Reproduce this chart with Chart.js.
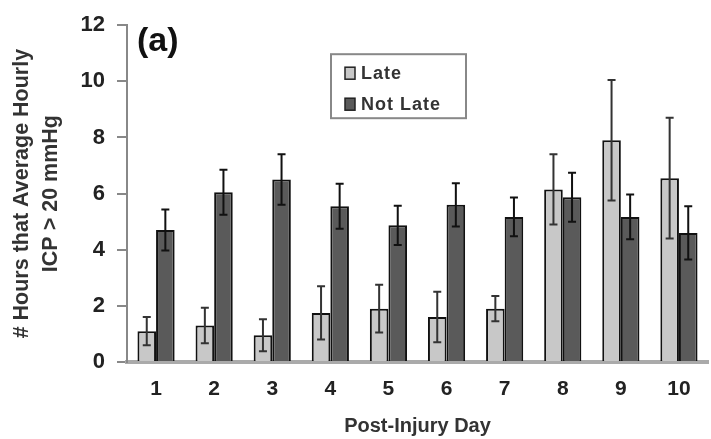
<!DOCTYPE html>
<html>
<head>
<meta charset="utf-8">
<script src="https://cdn.jsdelivr.net/npm/chart.js@4/dist/chart.umd.min.js"></script>
<style>
  html, body { margin: 0; padding: 0; background: #fff; }
  #wrap { width: 711px; height: 439px; position: relative; }
</style>
</head>
<body>
<div id="wrap"><canvas id="c" width="711" height="439"></canvas></div>
<script>
// Post-injury days
const days = ['1', '2', '3', '4', '5', '6', '7', '8', '9', '10'];

// Mean hours per day with average hourly ICP > 20 mmHg, and standard errors
const lateMeans    = [1.10, 1.30, 0.95, 1.75, 1.90, 1.60, 1.90, 6.15, 7.90, 6.55];
const lateErr      = [0.50, 0.63, 0.57, 0.95, 0.85, 0.90, 0.45, 1.25, 2.15, 2.15];
const notLateMeans = [4.70, 6.05, 6.50, 5.55, 4.87, 5.60, 5.17, 5.87, 5.17, 4.60];
const notLateErr   = [0.73, 0.80, 0.90, 0.80, 0.70, 0.77, 0.69, 0.87, 0.80, 0.95];

const seriesNames = ['Late', 'Not Late'];
const yTicks = [0, 2, 4, 6, 8, 10, 12];

const FONT = '"Liberation Sans", Arial, sans-serif';
const fills = ['#c8c8c8', '#5a5a5a'];
const errors = [lateErr, notLateErr];

// Error bars (mean ± SE) drawn over each bar
const errorBars = {
  id: 'errorBars',
  afterDatasetsDraw(chart) {
    const ctx = chart.ctx;
    const y = chart.scales.y;
    chart.data.datasets.forEach((ds, i) => {
      const meta = chart.getDatasetMeta(i);
      ctx.save();
      ctx.strokeStyle = i === 0 ? '#333' : '#111';
      ctx.lineWidth = 2;
      meta.data.forEach((bar, j) => {
        const v = ds.data[j];
        const e = errors[i][j];
        const top = y.getPixelForValue(v + e);
        const bot = y.getPixelForValue(Math.max(v - e, 0));
        const cap = 4;
        ctx.beginPath();
        ctx.moveTo(bar.x, top); ctx.lineTo(bar.x, bot);
        ctx.moveTo(bar.x - cap, top); ctx.lineTo(bar.x + cap, top);
        ctx.moveTo(bar.x - cap, bot); ctx.lineTo(bar.x + cap, bot);
        ctx.stroke();
      });
      ctx.restore();
    });
  }
};

// Panel tag and boxed legend inside the plot area
const annotations = {
  id: 'annotations',
  afterDraw(chart) {
    const ctx = chart.ctx;
    const a = chart.chartArea;
    ctx.save();
    ctx.fillStyle = '#111';
    ctx.font = 'bold 34px ' + FONT;
    ctx.textBaseline = 'middle';
    ctx.textAlign = 'left';
    ctx.fillText('(a)', a.left + 10, a.top + 16);

    // legend box
    const bx = a.left + 204, by = a.top + 29, bw = 135, bh = 64;
    ctx.strokeStyle = '#888';
    ctx.lineWidth = 2;
    ctx.strokeRect(bx, by, bw, bh);
    ctx.font = 'bold 18px ' + FONT;
    if ('letterSpacing' in ctx) ctx.letterSpacing = '1px';
    seriesNames.forEach((name, i) => {
      const cy = by + 19 + i * 31;
      ctx.fillStyle = fills[i];
      ctx.fillRect(bx + 14, cy - 6, 10, 12);
      ctx.strokeStyle = '#222';
      ctx.lineWidth = 1.5;
      ctx.strokeRect(bx + 14, cy - 6, 10, 12);
      ctx.fillStyle = '#333';
      ctx.fillText(name, bx + 30, cy + 1);
    });
    ctx.restore();
  }
};

new Chart(document.getElementById('c'), {
  type: 'bar',
  data: {
    labels: days,
    datasets: [
      { label: seriesNames[0], data: lateMeans, backgroundColor: fills[0],
        borderColor: '#111', borderWidth: 2 },
      { label: seriesNames[1], data: notLateMeans, backgroundColor: fills[1],
        borderColor: '#111', borderWidth: 2 }
    ]
  },
  options: {
    responsive: false,
    animation: false,
    devicePixelRatio: 1,
    layout: { padding: { top: 23, right: 3, left: 0, bottom: 0 } },
    datasets: { bar: { categoryPercentage: 0.64, barPercentage: 1.0 } },
    plugins: { legend: { display: false }, tooltip: { enabled: false } },
    scales: {
      x: {
        grid: { display: true, drawOnChartArea: false, drawTicks: false },
        border: { display: true, color: '#aaa', width: 4 },
        ticks: { color: '#222', padding: 15, font: { family: FONT, size: 21, weight: 'bold' } },
        title: {
          display: true, text: 'Post-Injury Day', color: '#333',
          font: { family: FONT, size: 20, weight: 'bold', lineHeight: 1.2 },
          padding: { top: 0, bottom: 1 }
        },
        afterFit(scale) { scale.height = 77; }
      },
      y: {
        min: 0, max: 12,
        afterBuildTicks(scale) { scale.ticks = yTicks.map(v => ({ value: v })); },
        grid: { drawOnChartArea: false, drawTicks: true, tickLength: 10, color: '#888', lineWidth: 2 },
        border: { display: true, color: '#888', width: 2 },
        ticks: { color: '#222', padding: 12, font: { family: FONT, size: 22, weight: 'bold' } },
        title: {
          display: true,
          text: ['# Hours that Average Hourly', 'ICP > 20 mmHg'],
          color: '#333',
          font: { family: FONT, size: 21.5, weight: 'bold', lineHeight: 1.35 },
          padding: { top: 8, bottom: 0 }
        },
        afterFit(scale) { scale.width = 127; }
      }
    }
  },
  plugins: [errorBars, annotations]
});
</script>
</body>
</html>
